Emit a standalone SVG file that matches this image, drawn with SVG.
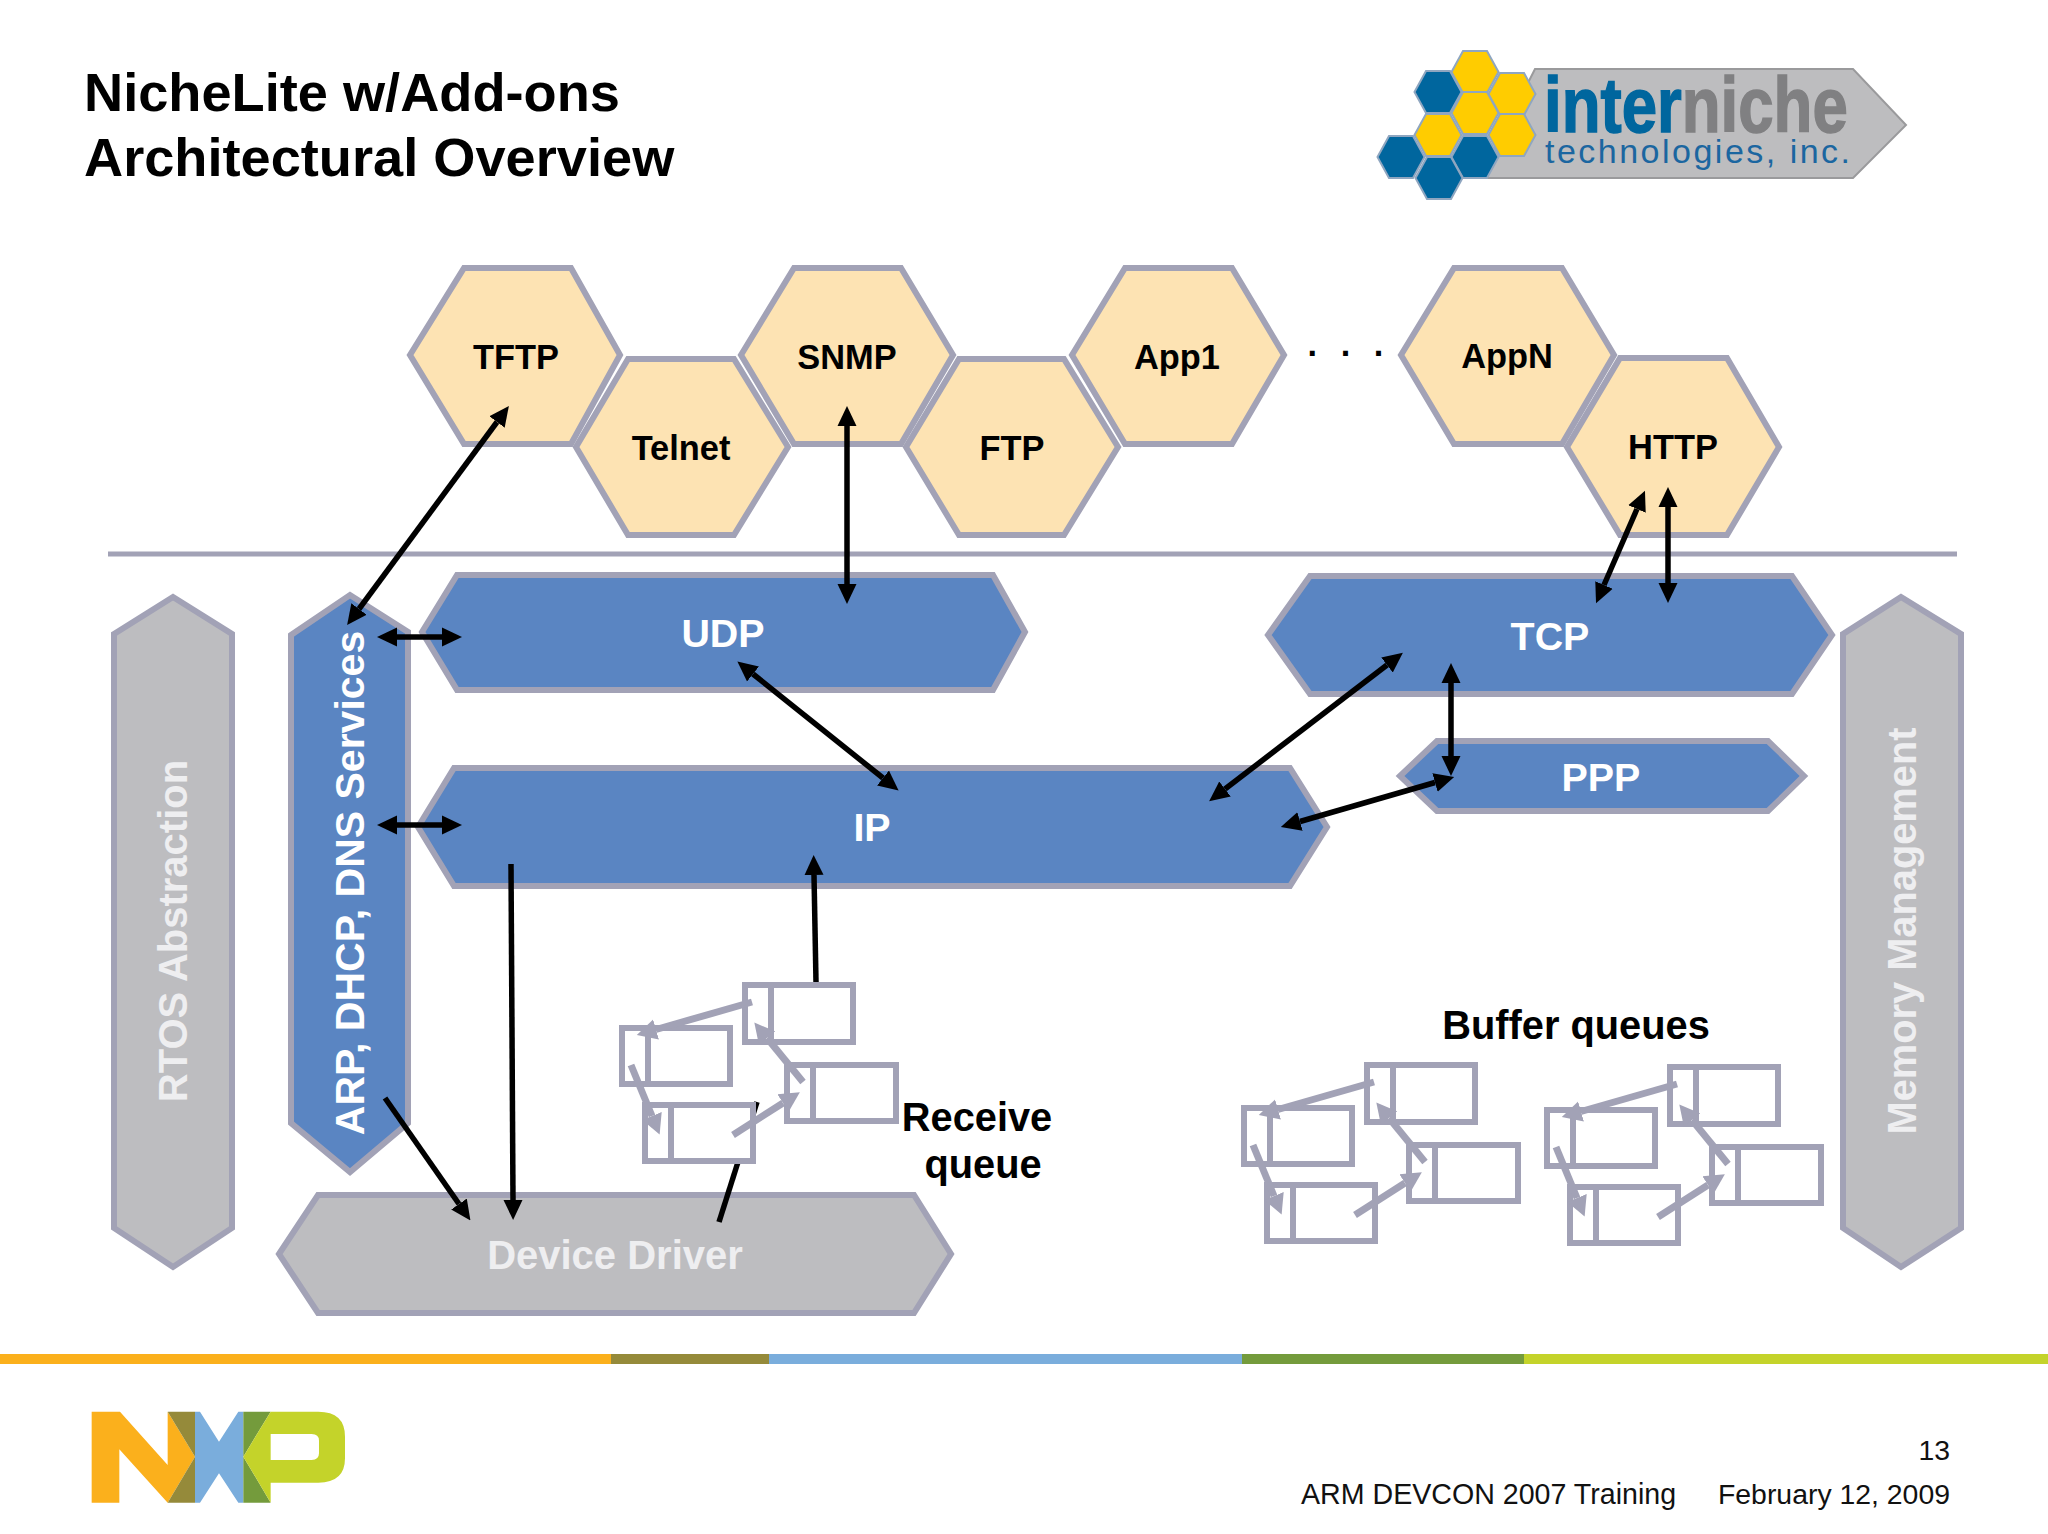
<svg xmlns="http://www.w3.org/2000/svg" xmlns:xlink="http://www.w3.org/1999/xlink" width="2048" height="1534" viewBox="0 0 2048 1534">
<style>
text{font-family:"Liberation Sans",Arial,sans-serif}
.b{font-weight:bold}
.m{text-anchor:middle}
.hex{fill:#fde3b3;stroke:#a2a2b6;stroke-width:6}
.blue{fill:#5a85c2;stroke:#a2a2b6;stroke-width:6}
.grey{fill:#bdbdc0;stroke:#a2a2b6;stroke-width:6}
.lh{font-size:34.4px;font-weight:bold;text-anchor:middle;fill:#000}
.lw{font-size:39.4px;font-weight:bold;text-anchor:middle;fill:#fff}
.lg{font-weight:bold;text-anchor:middle;fill:#eeeef0}
.lk{font-size:39.8px;font-weight:bold;text-anchor:middle;fill:#000}
.foot{font-size:28.4px;fill:#111}
.a{fill:none;stroke:#000;stroke-width:5.5}
.ah{marker-end:url(#ah)}
.ad{marker-end:url(#ah);marker-start:url(#ah)}
.q{fill:#fff;stroke:#a2a2b6;stroke-width:6}
.d{fill:none;stroke:#a2a2b6;stroke-width:6}
.g{fill:none;stroke:#a2a2b6;stroke-width:7;marker-end:url(#gh)}
.y{fill:#ffcc00;stroke:#8fa6c0;stroke-width:2}
.u{fill:#00669e;stroke:#8fa6c0;stroke-width:2}
</style>
<defs>
<marker id="ah" markerUnits="userSpaceOnUse" orient="auto-start-reverse" viewBox="0 -10 20 20" markerWidth="20" markerHeight="20" refX="0" refY="0"><path d="M0,-9.5L20,0L0,9.5z" fill="#000"/></marker>
<marker id="gh" markerUnits="userSpaceOnUse" orient="auto" viewBox="0 -11 22 22" markerWidth="22" markerHeight="22" refX="0" refY="0"><path d="M0,-10.5L20,0L0,10.5z" fill="#a2a2b6"/></marker>
<polygon id="lh" points="-23.5,0 -12,-21 12,-21 23.5,0 12,21 -12,21"/>
<g id="queue">
<rect class="q" x="745" y="985" width="108" height="57"/><line class="d" x1="771" y1="985" x2="771" y2="1042"/>
<rect class="q" x="622" y="1028" width="108" height="56"/><line class="d" x1="648" y1="1028" x2="648" y2="1084"/>
<rect class="q" x="645" y="1105" width="108" height="56"/><line class="d" x1="671" y1="1105" x2="671" y2="1161"/>
<rect class="q" x="787" y="1065" width="109" height="56"/><line class="d" x1="813" y1="1065" x2="813" y2="1121"/>
<line class="g" x1="752" y1="1002" x2="656" y2="1029.5"/>
<line class="g" x1="733" y1="1135" x2="783" y2="1103"/>
<line class="g" x1="803" y1="1082" x2="767" y2="1038"/>
<line class="g" x1="631" y1="1065" x2="652" y2="1116"/>
</g>
</defs>
<rect width="2048" height="1534" fill="#fff"/>

<g id="title">
<text class="b" x="84" y="111" font-size="54.2" fill="#000">NicheLite w/Add-ons</text>
<text class="b" x="84" y="176" font-size="54.2" fill="#000">Architectural Overview</text>
</g>

<g id="interniche-logo">
<polygon points="1480,178 1535,69 1853,69 1906,125 1853,178" fill="#bdbdbf" stroke="#9a9a9c" stroke-width="2"/>
<use href="#lh" class="y" x="1475" y="72"/>
<use href="#lh" class="u" x="1438" y="92"/>
<use href="#lh" class="y" x="1512" y="94"/>
<use href="#lh" class="y" x="1475" y="113"/>
<use href="#lh" class="y" x="1438" y="135"/>
<use href="#lh" class="y" x="1512" y="135"/>
<use href="#lh" class="u" x="1401" y="157"/>
<use href="#lh" class="u" x="1475" y="157"/>
<use href="#lh" class="u" x="1439" y="178"/>
<text class="b" transform="translate(1544,132) scale(.815,1)" font-size="78" stroke-width="1.5"><tspan fill="#00669e" stroke="#00669e">inter</tspan><tspan fill="#808082" stroke="#808082">niche</tspan></text>
<text x="1545" y="163" font-size="34" fill="#1b66a0" textLength="305" lengthAdjust="spacing">technologies, inc.</text>
</g>

<line id="divider" x1="108" y1="554" x2="1957" y2="554" stroke="#a2a2b6" stroke-width="5"/>

<g id="TFTP"><polygon class="hex" points="410,355 464,268 571,268 620,355 571,444 464,444"/><text class="lh" x="516" y="369">TFTP</text></g>
<g id="Telnet"><polygon class="hex" points="576,447 628,359 734,359 788,447 734,535 628,535"/><text class="lh" x="681" y="460">Telnet</text></g>
<g id="SNMP"><polygon class="hex" points="741,355 794,268 901,268 953,355 901,444 794,444"/><text class="lh" x="847" y="369">SNMP</text></g>
<g id="FTP"><polygon class="hex" points="906,447 959,359 1064,359 1118,447 1064,535 959,535"/><text class="lh" x="1012" y="460">FTP</text></g>
<g id="App1"><polygon class="hex" points="1072,355 1125,268 1232,268 1284,355 1232,444 1125,444"/><text class="lh" x="1177" y="369">App1</text></g>
<text id="ellipsis" class="lh" x="1349" y="356" letter-spacing="7">. . .</text>
<g id="AppN"><polygon class="hex" points="1401,355 1454,268 1562,268 1614,355 1562,444 1454,444"/><text class="lh" x="1507" y="368">AppN</text></g>
<g id="HTTP"><polygon class="hex" points="1567,447 1620,358 1727,358 1779,447 1727,535 1620,535"/><text class="lh" x="1673" y="459">HTTP</text></g>

<g id="RTOS"><polygon class="grey" points="114,634 173,597 232,634 232,1228 173,1267 114,1228"/><text class="lg" font-size="40" transform="translate(187,931) rotate(-90)">RTOS Abstraction</text></g>
<g id="ARP"><polygon class="blue" points="291,635 350,595 408,632 408,1123 350,1172 291,1123"/><text class="lw" style="font-size:41px" transform="translate(364,883) rotate(-90)">ARP, DHCP, DNS Services</text></g>
<g id="UDP"><polygon class="blue" points="422,632 457,575 993,575 1025,632 993,690 457,690"/><text class="lw" x="723" y="647">UDP</text></g>
<g id="IP"><polygon class="blue" points="418,827 454,768 1290,768 1327,827 1290,886 454,886"/><text class="lw" x="872" y="841">IP</text></g>
<g id="TCP"><polygon class="blue" points="1268,635 1310,576 1792,576 1832,635 1792,694 1310,694"/><text class="lw" x="1550" y="650">TCP</text></g>
<g id="PPP"><polygon class="blue" points="1400,776 1437,741 1768,741 1804,776 1768,811 1437,811"/><text class="lw" x="1601" y="791">PPP</text></g>
<g id="Memory"><polygon class="grey" points="1843,634 1901,597 1961,634 1961,1228 1901,1267 1843,1228"/><text class="lg" font-size="39.8" transform="translate(1916,931) rotate(-90)">Memory Management</text></g>
<g id="DeviceDriver"><polygon class="grey" points="279,1254 318,1195 914,1195 951,1254 914,1313 318,1313"/><text class="lg" font-size="40" x="615" y="1269">Device Driver</text></g>

<g id="connectors">
<line class="a ad" x1="359" y1="609" x2="497" y2="422"/>
<line class="a ad" x1="397" y1="637" x2="442" y2="637"/>
<line class="a ad" x1="397" y1="825" x2="442" y2="825"/>
<line class="a ad" x1="847" y1="426" x2="847" y2="584"/>
<line class="a ad" x1="1604" y1="585" x2="1637" y2="509"/>
<line class="a ad" x1="1668" y1="507" x2="1668" y2="583"/>
<line class="a ad" x1="753" y1="674" x2="883" y2="778"/>
<line class="a ad" x1="1225" y1="789" x2="1387" y2="665"/>
<line class="a ad" x1="1451" y1="683" x2="1451" y2="756"/>
<line class="a ad" x1="1300" y1="821.5" x2="1435" y2="782.5"/>
<line class="a ah" x1="511" y1="864" x2="513" y2="1200"/>
<line class="a ah" x1="385" y1="1098" x2="459" y2="1204"/>
<line class="a ah" x1="816" y1="982" x2="814" y2="875"/>
<line class="a" x1="719" y1="1222" x2="757" y2="1102"/>
</g>

<g id="receive-queue"><use href="#queue"/></g>
<g id="buffer-queue-1"><use href="#queue" x="622" y="80"/></g>
<g id="buffer-queue-2"><use href="#queue" x="925" y="82"/></g>

<text class="lk" x="977" y="1131">Receive</text>
<text class="lk" x="983" y="1178">queue</text>
<text class="lk" x="1576" y="1039">Buffer queues</text>

<g id="footer-bar">
<rect x="0" y="1354" width="611" height="10" fill="#fbb01c"/>
<rect x="611" y="1354" width="158" height="10" fill="#958a3a"/>
<rect x="769" y="1354" width="473" height="10" fill="#7aaddc"/>
<rect x="1242" y="1354" width="282" height="10" fill="#749b3c"/>
<rect x="1524" y="1354" width="524" height="10" fill="#c4d32a"/>
</g>

<g id="nxp-logo" transform="translate(0,1340) scale(.33333)">
<polygon fill="#fbb01c" points="275,215 360,215 503,375 503,215 585,350 503,488 358,328 358,488 275,488"/>
<polygon fill="#958a3a" points="503,215 585,215 585,350"/>
<polygon fill="#958a3a" points="585,350 585,488 503,488"/>
<polygon fill="#7aaddc" points="585,215 600,215 657,305 715,215 730,215 730,488 715,488 657,400 600,488 585,488"/>
<polygon fill="#749b3c" points="730,215 812,215 730,350"/>
<polygon fill="#749b3c" points="730,350 812,488 730,488"/>
<path fill="#c4d32a" fill-rule="evenodd" d="M812,215H955Q1035,215 1035,290V355Q1035,428 955,428H812V488L730,350L812,215ZM812,282V360H935Q957,360 957,340V302Q957,282 935,282Z"/>
</g>

<g id="footer-text">
<text class="foot" x="1950" y="1460" text-anchor="end">13</text>
<text class="foot" x="1301" y="1504" style="font-size:28.6px">ARM DEVCON 2007 Training</text>
<text class="foot" x="1950" y="1504" text-anchor="end">February 12, 2009</text>
</g>
</svg>
